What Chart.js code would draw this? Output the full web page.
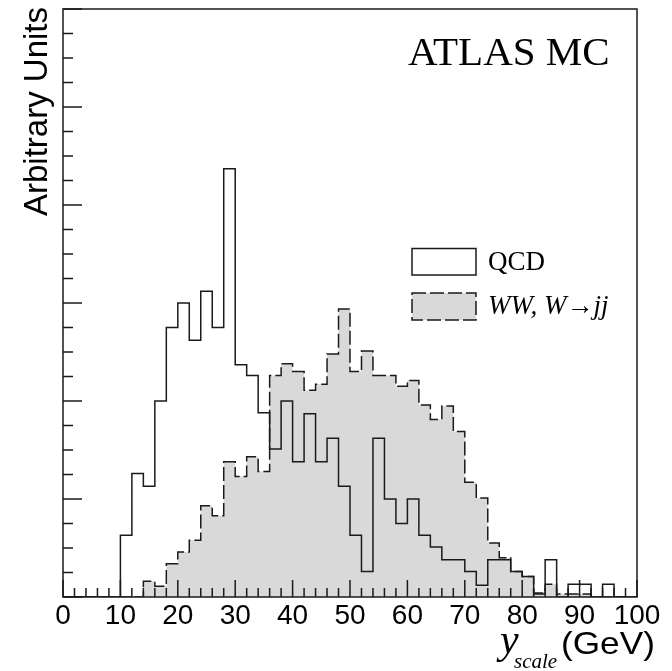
<!DOCTYPE html>
<html>
<head>
<meta charset="utf-8">
<script src="https://cdn.jsdelivr.net/npm/chart.js@4.4.1/dist/chart.umd.min.js"></script>
<style>
  body { margin: 0; background: #fff; }
  #wrap { width: 672px; height: 671px; }
</style>
</head>
<body>
<div id="wrap"><canvas id="grafico" width="672" height="671"></canvas></div>
<script>
// limites inferiores dos bins (GeV), largura 2
const binLow = [0, 2, 4, 6, 8, 10, 12, 14, 16, 18, 20, 22, 24, 26, 28, 30, 32, 34, 36, 38,
  40, 42, 44, 46, 48, 50, 52, 54, 56, 58, 60, 62, 64, 66, 68, 70, 72, 74, 76, 78,
  80, 82, 84, 86, 88, 90, 92, 94, 96, 98];
const xMax = 100;

const qcd = [0, 0, 0, 0, 0, 63, 126, 113, 200, 275, 300, 262, 312, 275, 437, 237, 226, 188, 151, 200,
  138, 187, 138, 162, 113, 63, 26, 162, 100, 75, 100, 63, 51, 38, 38, 26, 12, 38, 38, 26,
  21, 3, 38, 0, 13, 13, 0, 13, 0, 0];

const ww = [0, 0, 0, 0, 0, 0, 0, 16, 11, 34, 46, 58, 93, 83, 138, 123, 143, 128, 226, 238,
  230, 211, 217, 248, 294, 230, 251, 226, 226, 215, 221, 196, 181, 195, 169, 117, 101, 55, 40, 26,
  21, 4, 13, 3, 3, 3, 0, 0, 0, 0];

const xLabels = [0, 10, 20, 30, 40, 50, 60, 70, 80, 90, 100];

const cinza = '#d9d9d9';
const traco = '#1a1a1a';

function pontos(valores) {
  const pts = binLow.map((x, i) => ({ x: x, y: valores[i] }));
  pts.push({ x: xMax, y: valores[valores.length - 1] });
  return pts;
}

// moldura, ticks para dentro e textos
const extras = {
  id: 'extras',
  afterDraw(chart) {
    const { ctx, chartArea: a, scales: { x, y } } = chart;
    ctx.save();
    ctx.strokeStyle = traco;
    ctx.lineWidth = 1.5;
    ctx.strokeRect(a.left, a.top, a.right - a.left, a.bottom - a.top);

    ctx.beginPath();
    x.ticks.forEach(t => {
      const px = x.getPixelForValue(t.value);
      const len = t.value % 10 === 0 ? 17 : 9;
      ctx.moveTo(px, a.bottom);
      ctx.lineTo(px, a.bottom - len);
    });
    y.ticks.forEach(t => {
      const py = y.getPixelForValue(t.value);
      const len = t.value % 100 === 0 ? 19 : 10;
      ctx.moveTo(a.left, py);
      ctx.lineTo(a.left + len, py);
    });
    ctx.stroke();

    ctx.fillStyle = '#000';
    ctx.textBaseline = 'alphabetic';
    ctx.textAlign = 'left';
    ctx.font = '41px "Liberation Serif"';
    ctx.fillText('ATLAS MC', 408, 65);

    // legenda
    ctx.fillStyle = '#fff';
    ctx.fillRect(412, 248.5, 64, 26.5);
    ctx.strokeRect(412, 248.5, 64, 26.5);
    ctx.fillStyle = cinza;
    ctx.fillRect(412, 293, 64, 27);
    ctx.setLineDash([14, 4]);
    ctx.strokeRect(412, 293, 64, 27);
    ctx.setLineDash([]);

    ctx.fillStyle = '#000';
    ctx.font = '27px "Liberation Serif"';
    ctx.fillText('QCD', 488, 270);
    ctx.font = 'italic 27px "Liberation Serif"';
    ctx.fillText('WW, W\u2192jj', 488, 314);

    // titulo eixo x
    ctx.font = 'italic 42px "Liberation Serif"';
    ctx.fillText('y', 500, 653);
    ctx.font = 'italic 21px "Liberation Serif"';
    ctx.fillText('scale', 514, 668);
    ctx.save();
    ctx.translate(561, 654);
    ctx.scale(1.1, 1);
    ctx.font = '32px "Liberation Sans"';
    ctx.fillText('(GeV)', 0, 0);
    ctx.restore();

    // titulo eixo y
    ctx.translate(47, 7);
    ctx.rotate(-Math.PI / 2);
    ctx.textAlign = 'right';
    ctx.font = '33px "Liberation Sans"';
    ctx.fillText('Arbitrary Units', 0, 0);
    ctx.restore();
  }
};

const ctx = document.getElementById('grafico').getContext('2d');

new Chart(ctx, {
  type: 'line',
  data: {
    datasets: [
      {
        label: 'QCD',
        data: pontos(qcd),
        stepped: true,
        borderColor: traco,
        borderWidth: 1.5,
        pointRadius: 0,
        fill: false
      },
      {
        label: 'WW, W\u2192jj',
        data: pontos(ww),
        stepped: true,
        borderColor: traco,
        borderWidth: 1.5,
        borderDash: [14, 4],
        backgroundColor: cinza,
        pointRadius: 0,
        fill: 'origin'
      }
    ]
  },
  options: {
    responsive: false,
    animation: false,
    layout: { padding: { top: 9, right: 35, bottom: 0, left: 0 } },
    plugins: {
      legend: { display: false },
      tooltip: { enabled: false }
    },
    scales: {
      x: {
        type: 'linear',
        min: 0,
        max: xMax,
        grid: { display: false, drawTicks: false },
        border: { display: false },
        ticks: {
          stepSize: 2,
          autoSkip: false,
          maxRotation: 0,
          padding: 2,
          color: '#000',
          font: { family: '"Liberation Sans"', size: 28 },
          callback: v => xLabels.includes(v) ? String(v) : ''
        },
        afterFit: s => { s.height = 74; }
      },
      y: {
        min: 0,
        max: 600,
        grid: { display: false, drawTicks: false },
        border: { display: false },
        ticks: { stepSize: 25, display: false },
        afterFit: s => { s.width = 63; }
      }
    }
  },
  plugins: [extras]
});
</script>
</body>
</html>
